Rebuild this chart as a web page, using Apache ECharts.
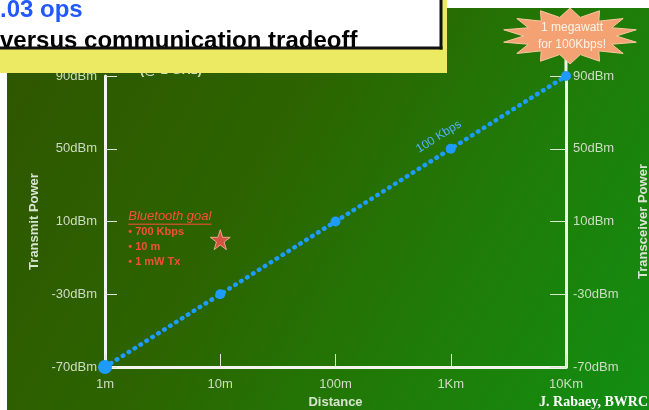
<!DOCTYPE html>
<html>
<head>
<meta charset="utf-8">
<script src="https://cdn.jsdelivr.net/npm/echarts@6/dist/echarts.min.js"></script>
<style>
  html, body { margin: 0; padding: 0; background: #ffffff; overflow: hidden; }
  #panel {
    position: absolute; left: 7px; top: 8px; width: 642px; height: 402px;
    background: linear-gradient(120deg, #2f5500 0%, #2c6400 40%, #1f7c08 70%, #128e12 100%);
  }
  #chart { position: absolute; left: 0; top: 0; width: 649px; height: 410px; }
</style>
</head>
<body>
<div id="panel"></div>
<div id="chart"></div>
<script>
// Distance categories along the bottom axis
const distances = ['1m', '10m', '100m', '1Km', '10Km'];
// Transmit power needed for 100 Kbps at each distance
const powerDbm = [-70, -30, 10, 50, 90];
// Power tick values shown on both vertical axes
const powerTicks = [-70, -30, 10, 50, 90];
// Bluetooth target point and its notes
const bluetoothGoal = ['10m', 0];
const bluetoothNotes = ['\u2022 700 Kbps', '\u2022 10 m', '\u2022 1 mW Tx'];

const FONT = "'Liberation Sans', Arial, Helvetica, sans-serif";
const LABEL_COLOR = '#cfdcc4';
const LINE_BLUE = '#1e9bff';

const chart = echarts.init(document.getElementById('chart'), null, { renderer: 'canvas' });

const yAxisBase = {
  type: 'value',
  min: -70,
  max: 90,
  splitLine: { show: false },
  axisLine: { show: true, lineStyle: { color: '#f4f6ee', width: 3 } },
  axisTick: { show: true, inside: true, customValues: powerTicks, lineStyle: { color: '#dfe6d6', width: 1 } },
  axisLabel: {
    customValues: powerTicks,
    formatter: v => v + 'dBm',
    color: LABEL_COLOR, fontFamily: FONT, fontSize: 13
  },
  nameLocation: 'middle',
  nameRotate: 90,
  nameTextStyle: { color: '#d8e4d0', fontFamily: FONT, fontSize: 13, fontWeight: 'bold' }
};

const option = {
  animation: false,
  backgroundColor: 'transparent',
  grid: { left: 105, right: 83, top: 76, bottom: 43, outerBoundsMode: 'none', containLabel: false },
  xAxis: {
    type: 'category',
    data: distances,
    boundaryGap: false,
    axisLine: { onZero: false, lineStyle: { color: '#f4f6ee', width: 3 } },
    axisTick: { inside: true, length: 13, lineStyle: { color: '#dfe6d6', width: 1 } },
    axisLabel: { color: LABEL_COLOR, fontFamily: FONT, fontSize: 13, margin: 11 },
    name: 'Distance',
    nameLocation: 'middle',
    nameGap: 29,
    nameTextStyle: { color: '#d8e4d0', fontFamily: FONT, fontSize: 13, fontWeight: 'bold' },
    splitLine: { show: false }
  },
  yAxis: [
    Object.assign({}, yAxisBase, {
      position: 'left',
      name: 'Transmit Power',
      nameGap: 64,
      axisTick: Object.assign({}, yAxisBase.axisTick, { length: 12 }),
      axisLabel: Object.assign({}, yAxisBase.axisLabel, { margin: 8 })
    }),
    Object.assign({}, yAxisBase, {
      position: 'right',
      name: 'Transceiver Power',
      nameGap: 71,
      axisTick: Object.assign({}, yAxisBase.axisTick, { length: 16 }),
      axisLabel: Object.assign({}, yAxisBase.axisLabel, { margin: 7 })
    })
  ],
  series: [
    {
      type: 'line',
      data: powerDbm.map((v, i) => i === 0 ? { value: v, symbolSize: 14 } : v),
      symbol: 'circle',
      symbolSize: 10,
      itemStyle: { color: LINE_BLUE },
      lineStyle: { color: LINE_BLUE, width: 4.5, type: [0.5, 6.5], cap: 'round' },
      z: 5
    },
    {
      type: 'scatter',
      data: [bluetoothGoal],
      symbol: 'path://M50,0 L61.2,34.5 L97.6,34.5 L68.2,55.9 L79.4,90.5 L50,69.1 L20.6,90.5 L31.8,55.9 L2.4,34.5 L38.8,34.5 Z',
      symbolSize: 20,
      itemStyle: { color: '#ff5050', borderColor: '#ffb8a8', borderWidth: 1 },
      z: 6
    }
  ]
};

chart.setOption(option);

// Pixel anchors taken from the axes
const topPt = chart.convertToPixel({ seriesIndex: 0 }, [4, powerDbm[4]]);
const kmPt = chart.convertToPixel({ seriesIndex: 0 }, [3, powerDbm[3]]);
const startPt = chart.convertToPixel({ seriesIndex: 0 }, [0, powerDbm[0]]);
const starPt = chart.convertToPixel({ seriesIndex: 1 }, [1, bluetoothGoal[1]]);

// Starburst callout above the 10Km point
const burstCx = topPt[0] + 4, burstCy = topPt[1] - 40;
const burstPts = [];
const spikes = 14;
for (let i = 0; i < spikes * 2; i++) {
  const a = i * Math.PI / spikes - Math.PI / 2;
  const r = i % 2 === 0 ? 1 : 0.68;
  burstPts.push([burstCx + 68 * r * Math.cos(a), burstCy + 28 * r * Math.sin(a)]);
}

// Slope of the dotted line for the rotated rate label
const ang = Math.atan2(startPt[1] - topPt[1], topPt[0] - startPt[0]);

// Width of the underlined heading
const measure = document.createElement('canvas').getContext('2d');
measure.font = 'italic 13px ' + FONT;
const goalW = measure.measureText('Bluetooth goal').width;

const goalX = starPt[0] - 92;
const goalY = starPt[1] - 23;

const graphics = [
  {
    type: 'text', x: 140, y: 70, z: 1,
    style: { text: '(@ 1 GHz)', fill: '#cfdcc4', font: 'bold 13px ' + FONT, textVerticalAlign: 'middle' }
  },
  {
    type: 'line', z: 1,
    shape: { x1: topPt[0], y1: topPt[1], x2: topPt[0], y2: burstCy + 15 },
    style: { stroke: '#f4f6ee', lineWidth: 3 }
  },
  {
    type: 'polygon', z: 10,
    shape: { points: burstPts },
    style: { fill: '#f4a273', stroke: '#f8c6a0', lineWidth: 1 }
  },
  {
    type: 'text', x: burstCx + 2, y: burstCy - 8, z: 11,
    style: { text: '1 megawatt', fill: '#fff3e6', font: '12px ' + FONT, textAlign: 'center', textVerticalAlign: 'middle' }
  },
  {
    type: 'text', x: burstCx + 2, y: burstCy + 9, z: 11,
    style: { text: 'for 100Kbps!', fill: '#fff3e6', font: '12px ' + FONT, textAlign: 'center', textVerticalAlign: 'middle' }
  },
  {
    type: 'text', x: kmPt[0] - 12, y: kmPt[1] - 12, z: 11, rotation: ang,
    style: { text: '100 Kbps', fill: '#4fb4ff', font: '12px ' + FONT, textAlign: 'center', textVerticalAlign: 'middle' }
  },
  {
    type: 'text', x: goalX, y: goalY, z: 11,
    style: { text: 'Bluetooth goal', fill: '#ff4d3a', font: 'italic 13px ' + FONT, textVerticalAlign: 'middle' }
  },
  {
    type: 'line', z: 11,
    shape: { x1: goalX, y1: goalY + 7.5, x2: goalX + goalW, y2: goalY + 7.5 },
    style: { stroke: '#ff4d3a', lineWidth: 1 }
  }
];

bluetoothNotes.forEach((t, i) => {
  graphics.push({
    type: 'text', x: goalX, y: goalY + 15 + i * 15, z: 11,
    style: { text: t, fill: '#f0503a', font: 'bold 11px ' + FONT, textVerticalAlign: 'middle' }
  });
});

// Slide header boxes
graphics.push(
  { type: 'rect', z: 50, shape: { x: 0, y: 0, width: 447, height: 73 }, style: { fill: '#ece963' } },
  { type: 'rect', z: 51, shape: { x: 0, y: 0, width: 441, height: 48 }, style: { fill: '#ffffff' } },
  {
    type: 'text', x: 0, y: 10.5, z: 52,
    style: { text: '.03 ops', fill: '#2158ff', font: 'bold 24px ' + FONT, textVerticalAlign: 'middle' }
  },
  {
    type: 'text', x: 0, y: 41, z: 52,
    style: { text: 'versus communication tradeoff', fill: '#000000', font: 'bold 24px ' + FONT, textVerticalAlign: 'middle' }
  },
  { type: 'line', z: 53, shape: { x1: 441, y1: 0, x2: 441, y2: 49.5 }, style: { stroke: '#111111', lineWidth: 3 } },
  { type: 'line', z: 53, shape: { x1: 0, y1: 48, x2: 442.5, y2: 48 }, style: { stroke: '#111111', lineWidth: 3 } },
  {
    type: 'text', x: 648, y: 402, z: 53,
    style: { text: 'J. Rabaey, BWRC', fill: '#ffffff', font: "bold 14px 'Liberation Serif', 'Times New Roman', serif", textAlign: 'right', textVerticalAlign: 'middle' }
  }
);

chart.setOption({ graphic: graphics });
</script>
</body>
</html>
